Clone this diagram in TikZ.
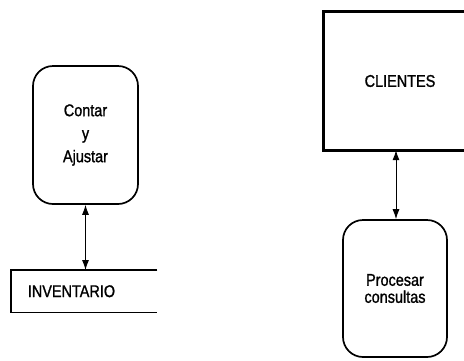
\documentclass[tikz,border=0pt]{standalone}
\usepackage{fontspec}
\setmainfont[FakeStretch=0.85,FakeBold=1.2]{Liberation Sans}
\usepackage{tikz}
\usetikzlibrary{arrows,arrows.meta,shapes}
\newcommand{\procw}{105pt}
\newcommand{\proch}{138pt}
\newcommand{\thickl}{3pt}

\tikzset{
    proceso/.style = {draw, rounded corners=20pt, line width=1.7pt, align=center,
                      minimum width=\procw, minimum height=\proch, inner sep=0pt},
    almacen/.style = {minimum width=146pt, minimum height=42pt, inner sep=0pt},
    entidad/.style = {minimum width=152pt, minimum height=138pt, inner sep=0pt},
    flujo/.style = {{Latex[length=10pt,width=7pt]}-{Latex[length=10pt,width=7pt]}, line width=0.9pt}
}

\begin{document}
\begin{tikzpicture}[x=1pt,y=-1pt]
            \fontsize{17pt}{17pt}\selectfont
            \clip (0,0) rectangle (464,360);
            %\draw[help lines] (0,0) grid[step=20] (464,360);

            % lado izquierdo
            \node[proceso] (contar) at (85.5,135) {Contar\\[6pt] y\\[6pt] Ajustar};
            \node[almacen, anchor=north west] (inventario) at (11,270) {};
            \node[anchor=west] (invtxt) at ([xshift=11pt]inventario.west) {INVENTARIO};
            \draw[line width=1.5pt] (inventario.north east) -- (inventario.north west)
                -- (inventario.south west) -- (inventario.south east);

            % lado derecho
            \node[entidad] (clientes) at (400,81) {CLIENTES};
            \draw[line width=\thickl] (clientes.north east) -- (clientes.north west)
                -- (clientes.south west) -- (clientes.south east);
            \node[proceso, minimum width=104pt, minimum height=137pt] (procesar) at (395,288.5)
                {Procesar\\ consultas};

            \draw[flujo] (contar.south) -- (contar.south |- inventario.north);
            \draw[flujo] ([xshift=1pt]procesar.north |- clientes.south) -- ([xshift=1pt]procesar.north);
        \end{tikzpicture}
\end{document}
